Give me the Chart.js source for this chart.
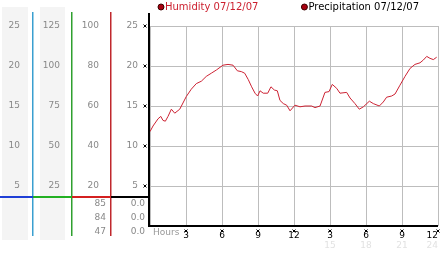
<!DOCTYPE html>
<html>
<head>
<meta charset="utf-8">
<script src="https://cdn.jsdelivr.net/npm/chart.js@4/dist/chart.umd.min.js"></script>
<style>
    html, body { margin: 0; padding: 0; background: #fff; }
    #wrap { width: 442px; height: 253px; }
</style>
</head>
<body>
<div id="wrap"><canvas id="weatherChart" width="442" height="253"></canvas></div>
<script>
// hours since midnight, and the plotted reading
const hours = [0, 0.25, 0.67, 0.9, 1.08, 1.28, 1.5, 1.78, 2.06, 2.48,
    3.03, 3.44, 3.86, 4.28, 4.69, 5.11, 5.53, 6.08, 6.5, 6.92,
    7.28, 7.61, 7.89, 8.19, 8.47, 8.75, 8.97, 9.17, 9.44, 9.81,
    10.08, 10.36, 10.61, 10.83, 11.11, 11.39, 11.67, 12.08, 12.5, 12.92,
    13.47, 13.75, 14.17, 14.58, 14.92, 15.19, 15.56, 15.83, 16.39, 16.67,
    17.08, 17.44, 17.78, 18.28, 18.61, 19.11, 19.44, 19.72, 20.14, 20.42,
    20.83, 21.25, 21.67, 22.08, 22.5, 22.78, 23.06, 23.33, 23.61, 23.89];
const humidity = [11.8, 12.5, 13.4, 13.7, 13.2, 13.1, 13.7, 14.6, 14.1, 14.6,
    16.2, 17.1, 17.8, 18.1, 18.7, 19.1, 19.5, 20.1, 20.2, 20.1,
    19.4, 19.3, 19.1, 18.3, 17.4, 16.6, 16.25, 16.9, 16.6, 16.6,
    17.4, 17.0, 16.9, 15.7, 15.3, 15.1, 14.4, 15.1, 14.9, 15.0,
    15.0, 14.8, 15.0, 16.7, 16.8, 17.7, 17.2, 16.6, 16.7, 16.0,
    15.3, 14.6, 14.9, 15.6, 15.3, 15.0, 15.5, 16.1, 16.25, 16.5,
    17.6, 18.7, 19.7, 20.2, 20.4, 20.75, 21.2, 20.96, 20.8, 21.1];
const precipitation = [];

const hourTicks = [0, 3, 6, 9, 12, 15, 18, 21, 24];
const mainTicks = [5, 10, 15, 20, 25];
const ticksA = [5, 10, 15, 20, 25];
const ticksB = [25, 50, 75, 100, 125];
const ticksC = [20, 40, 60, 80, 100];
const rowsC = [85, 84, 47];
const rowsMain = ["0.0", "0.0", "0.0"];

const FONT = { family: "DejaVu Sans", size: 9 };
const legendText = ["#cc1f2e", "#000000"];

function fixTicks(list) {
    return (scale) => {
        scale.ticks = list.map((v) => ({ value: v }));
    };
}

function sideAxis(max, list, width, pad) {
    return {
        position: "left",
        min: 0,
        max: max,
        afterBuildTicks: fixTicks(list),
        afterFit: (s) => { s.width = width; },
        ticks: { color: "#888", font: FONT, padding: pad },
        grid: { display: false, drawTicks: false },
        border: { display: false },
    };
}

function glyph(ctx, x, y) {
    ctx.beginPath();
    ctx.moveTo(x - 1.5, y - 1.5);
    ctx.lineTo(x + 1.5, y + 1.5);
    ctx.moveTo(x + 1.5, y - 1.5);
    ctx.lineTo(x - 1.5, y + 1.5);
    ctx.stroke();
}

const decor = {
    id: "decor",
    beforeDraw(chart) {
        const { ctx, scales } = chart;
        ctx.save();
        ctx.fillStyle = "#f4f4f4";
        ctx.fillRect(scales.yA.left + 2, 7, scales.yA.width - 7, 233);
        ctx.fillRect(scales.yB.left + 7, 7, scales.yB.width - 14, 233);
        ctx.restore();
    },
    afterDraw(chart) {
        const { ctx, chartArea, scales } = chart;
        const ca = chartArea;
        const lineY = ca.bottom - 29;
        ctx.save();

        // column separators
        const cols = [
            [scales.yA, "#3a9fd0", "#1f3fd6"],
            [scales.yB, "#2fa02f", "#22b022"],
            [scales.yC, "#c0282d", "#d42020"],
        ];
        cols.forEach(([s, vcol, hcol]) => {
            ctx.fillStyle = vcol;
            ctx.fillRect(s.right - 1, 12, 1.5, 224);
            ctx.fillStyle = hcol;
            ctx.fillRect(s.left, lineY - 1, s.width, 2);
        });
        ctx.fillStyle = "#000";
        ctx.fillRect(scales.y.left, lineY - 1, scales.y.width, 2);

        // rows under the separators
        ctx.font = "9px 'DejaVu Sans'";
        ctx.fillStyle = "#888";
        ctx.textAlign = "right";
        ctx.textBaseline = "middle";
        rowsC.forEach((v, i) => {
            ctx.fillText(String(v), scales.yC.right - 5, lineY + 7 + i * 14);
        });
        rowsMain.forEach((v, i) => {
            ctx.fillText(v, scales.y.right - 5, lineY + 7 + i * 14);
        });

        // axis lines
        ctx.fillStyle = "#000";
        ctx.fillRect(ca.left - 2, 13, 2, ca.bottom - 12);
        ctx.fillRect(ca.left - 2, ca.bottom - 1, ca.right - ca.left + 2, 2);

        // tick glyphs
        ctx.strokeStyle = "#000";
        ctx.lineWidth = 1;
        mainTicks.forEach((v) => glyph(ctx, ca.left - 5, scales.y.getPixelForValue(v)));
        hourTicks.slice(1).forEach((h) => glyph(ctx, scales.x.getPixelForValue(h), ca.bottom + 5));

        ctx.fillStyle = "#999";
        ctx.textAlign = "left";
        ctx.fillText("Hours", ca.left + 3, ca.bottom + 7);

        // legend
        ctx.font = "10px 'DejaVu Sans'";
        let lx = ca.left + 8;
        chart.data.datasets.forEach((ds, i) => {
            ctx.beginPath();
            ctx.arc(lx + 3, 7, 3, 0, Math.PI * 2);
            ctx.fillStyle = ds.backgroundColor;
            ctx.fill();
            ctx.strokeStyle = "#3a0000";
            ctx.stroke();
            ctx.fillStyle = legendText[i];
            ctx.fillText(ds.label, lx + 7, 7);
            lx += 7 + ctx.measureText(ds.label).width + 43;
        });
        ctx.restore();
    },
};

const ctx = document.getElementById("weatherChart").getContext("2d");
new Chart(ctx, {
    type: "line",
    data: {
        datasets: [
            {
                label: "Humidity 07/12/07",
                data: hours.map((h, i) => ({ x: h, y: humidity[i] })),
                borderColor: "#cc2233",
                backgroundColor: "#a80010",
                borderWidth: 1,
                pointRadius: 0,
                tension: 0,
                xAxisID: "x",
                yAxisID: "y",
            },
            {
                label: "Precipitation 07/12/07",
                data: precipitation,
                borderColor: "#a80010",
                backgroundColor: "#a80010",
                borderWidth: 1,
                pointRadius: 0,
                xAxisID: "x",
                yAxisID: "y",
            },
        ],
    },
    options: {
        responsive: false,
        animation: false,
        layout: { padding: { top: 26, right: 4, left: 0, bottom: 0 } },
        plugins: {
            legend: { display: false },
            tooltip: { enabled: false },
        },
        scales: {
            x: {
                type: "linear",
                position: "bottom",
                min: 0,
                max: 24,
                afterBuildTicks: fixTicks(hourTicks),
                afterFit: (s) => { s.height = 14; },
                ticks: {
                    color: "#000",
                    font: FONT,
                    padding: 4,
                    align: "inner",
                    autoSkip: false,
                    maxRotation: 0,
                    callback: (v) => (v === 0 ? "" : v > 12 ? v - 12 : v),
                },
                grid: { color: "#bdbdbd", drawTicks: false },
                border: { display: false },
            },
            x2: {
                type: "linear",
                position: "bottom",
                min: 0,
                max: 24,
                afterBuildTicks: fixTicks(hourTicks),
                afterFit: (s) => { s.height = 13; },
                ticks: {
                    color: "#e2e2e2",
                    font: FONT,
                    padding: 0,
                    align: "inner",
                    autoSkip: false,
                    maxRotation: 0,
                    callback: (v) => (v > 12 ? v : ""),
                },
                grid: { display: false, drawTicks: false },
                border: { display: false },
            },
            y: {
                position: "left",
                min: 0,
                max: 25,
                afterBuildTicks: fixTicks(mainTicks),
                afterFit: (s) => { s.width = 39; },
                ticks: { color: "#888", font: FONT, padding: 12 },
                grid: { color: "#bdbdbd", drawTicks: false },
                border: { display: false },
            },
            yC: sideAxis(100, ticksC, 39, 12),
            yB: sideAxis(125, ticksB, 39, 12),
            yA: sideAxis(25, ticksA, 33, 13),
        },
    },
    plugins: [decor],
});
</script>
</body>
</html>
